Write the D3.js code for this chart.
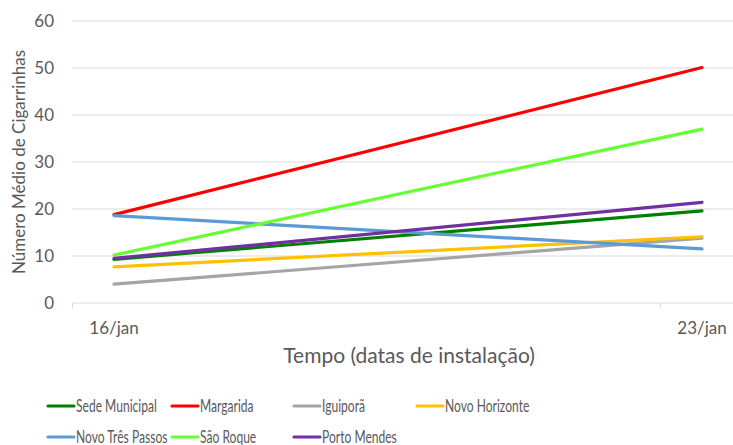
<!DOCTYPE html>
<html>
<head>
<meta charset="utf-8">
<script src="https://cdn.jsdelivr.net/npm/d3@7"></script>
<style>
  body { margin: 0; background: #fff; }
  svg { display: block; font-family: "Lato", "Liberation Sans", sans-serif; }
</style>
</head>
<body>
<div id="chart"></div>
<script>
// data
var dates = ["16/jan", "23/jan"];
var dayNumbers = [16, 23];
var seriesNames = ["Sede Municipal", "Margarida", "Iguiporã", "Novo Horizonte", "Novo Três Passos", "São Roque", "Porto Mendes"];
var sedeMunicipal = [9.3, 19.6];
var margarida = [18.8, 50.1];
var iguipora = [4.0, 13.8];
var novoHorizonte = [7.7, 14.1];
var novoTresPassos = [18.6, 11.5];
var saoRoque = [10.2, 37.0];
var portoMendes = [9.5, 21.4];
var yTicks = [0, 10, 20, 30, 40, 50, 60];
var colors = ["#008000", "#ff0000", "#a5a5a5", "#ffc000", "#5b9bd5", "#66ff33", "#7030a0"];

var seriesValues = [sedeMunicipal, margarida, iguipora, novoHorizonte, novoTresPassos, saoRoque, portoMendes];

(function () {
    "use strict";
    const width = 733, height = 445,
          textColor = "#595959",
          gridColor = "#d9d9d9";

    var svg = d3.select("#chart").append("svg")
        .attr("width", width)
        .attr("height", height);

    // date axis: one band per day, point in band centre
    var x = d3.scaleLinear().domain([15.5, 23.5]).range([72, 744]);
    var y = d3.scaleLinear().domain([0, 60]).range([303, 21]);

    // gridlines
    svg.append("g").selectAll("line")
        .data(yTicks.filter(function (d) { return d > 0; }))
        .enter().append("line")
        .attr("x1", 72).attr("x2", width)
        .attr("y1", function (d) { return y(d); })
        .attr("y2", function (d) { return y(d); })
        .attr("stroke", gridColor)
        .attr("stroke-width", 1);

    // x axis line + ticks
    svg.append("line")
        .attr("x1", 72).attr("x2", width)
        .attr("y1", y(0)).attr("y2", y(0))
        .attr("stroke", gridColor).attr("stroke-width", 1);
    svg.append("g").selectAll("line")
        .data(dayNumbers)
        .enter().append("line")
        .attr("x1", function (d) { return Math.round(x(d - 0.5)) + 0.5; })
        .attr("x2", function (d) { return Math.round(x(d - 0.5)) + 0.5; })
        .attr("y1", y(0)).attr("y2", y(0) + 5)
        .attr("stroke", gridColor);

    // y tick labels
    svg.append("g").selectAll("text")
        .data(yTicks)
        .enter().append("text")
        .attr("x", 54)
        .attr("y", function (d) { return y(d); })
        .attr("dy", "0.35em")
        .attr("text-anchor", "end")
        .style("font-size", "17px")
        .style("fill", textColor)
        .text(function (d) { return d; });

    // x tick labels
    svg.append("g").selectAll("text")
        .data(dayNumbers)
        .enter().append("text")
        .attr("x", function (d) { return x(d); })
        .attr("y", 334)
        .attr("text-anchor", "middle")
        .style("font-size", "17px")
        .style("fill", textColor)
        .text(function (d, i) { return dates[i]; });

    // axis titles
    svg.append("text")
        .attr("transform", "translate(25," + ((y(0) + y(60)) / 2) + ") rotate(-90)")
        .attr("text-anchor", "middle")
        .style("font-size", "17px")
        .style("fill", textColor)
        .text("Número Médio de Cigarrinhas");
    svg.append("text")
        .attr("x", 409)
        .attr("y", 363)
        .attr("text-anchor", "middle")
        .style("font-size", "21px")
        .style("fill", textColor)
        .text("Tempo (datas de instalação)");

    // lines
    var line = d3.line()
        .x(function (d, i) { return x(dayNumbers[i]); })
        .y(function (d) { return y(d); });

    svg.append("g").selectAll("path")
        .data(seriesValues)
        .enter().append("path")
        .attr("d", line)
        .attr("fill", "none")
        .attr("stroke", function (d, i) { return colors[i]; })
        .attr("stroke-width", 3.2)
        .attr("stroke-linecap", "round");

    // legend (text in the reference is horizontally squeezed)
    var colX = [48, 172, 294, 417],
        rowY = [406, 437];
    var item = svg.append("g").selectAll("g")
        .data(seriesNames)
        .enter().append("g")
        .attr("transform", function (d, i) {
            return "translate(" + colX[i % 4] + "," + rowY[Math.floor(i / 4)] + ")";
        });
    item.append("line")
        .attr("x1", 0).attr("x2", 26)
        .attr("stroke", function (d, i) { return colors[i]; })
        .attr("stroke-width", 3.2)
        .attr("stroke-linecap", "round");
    item.append("text")
        .attr("transform", "translate(28,0) scale(0.71,1)")
        .attr("dy", "0.35em")
        .style("font-size", "17px")
        .style("fill", textColor)
        .text(function (d) { return d; });
})();
</script>
</body>
</html>
